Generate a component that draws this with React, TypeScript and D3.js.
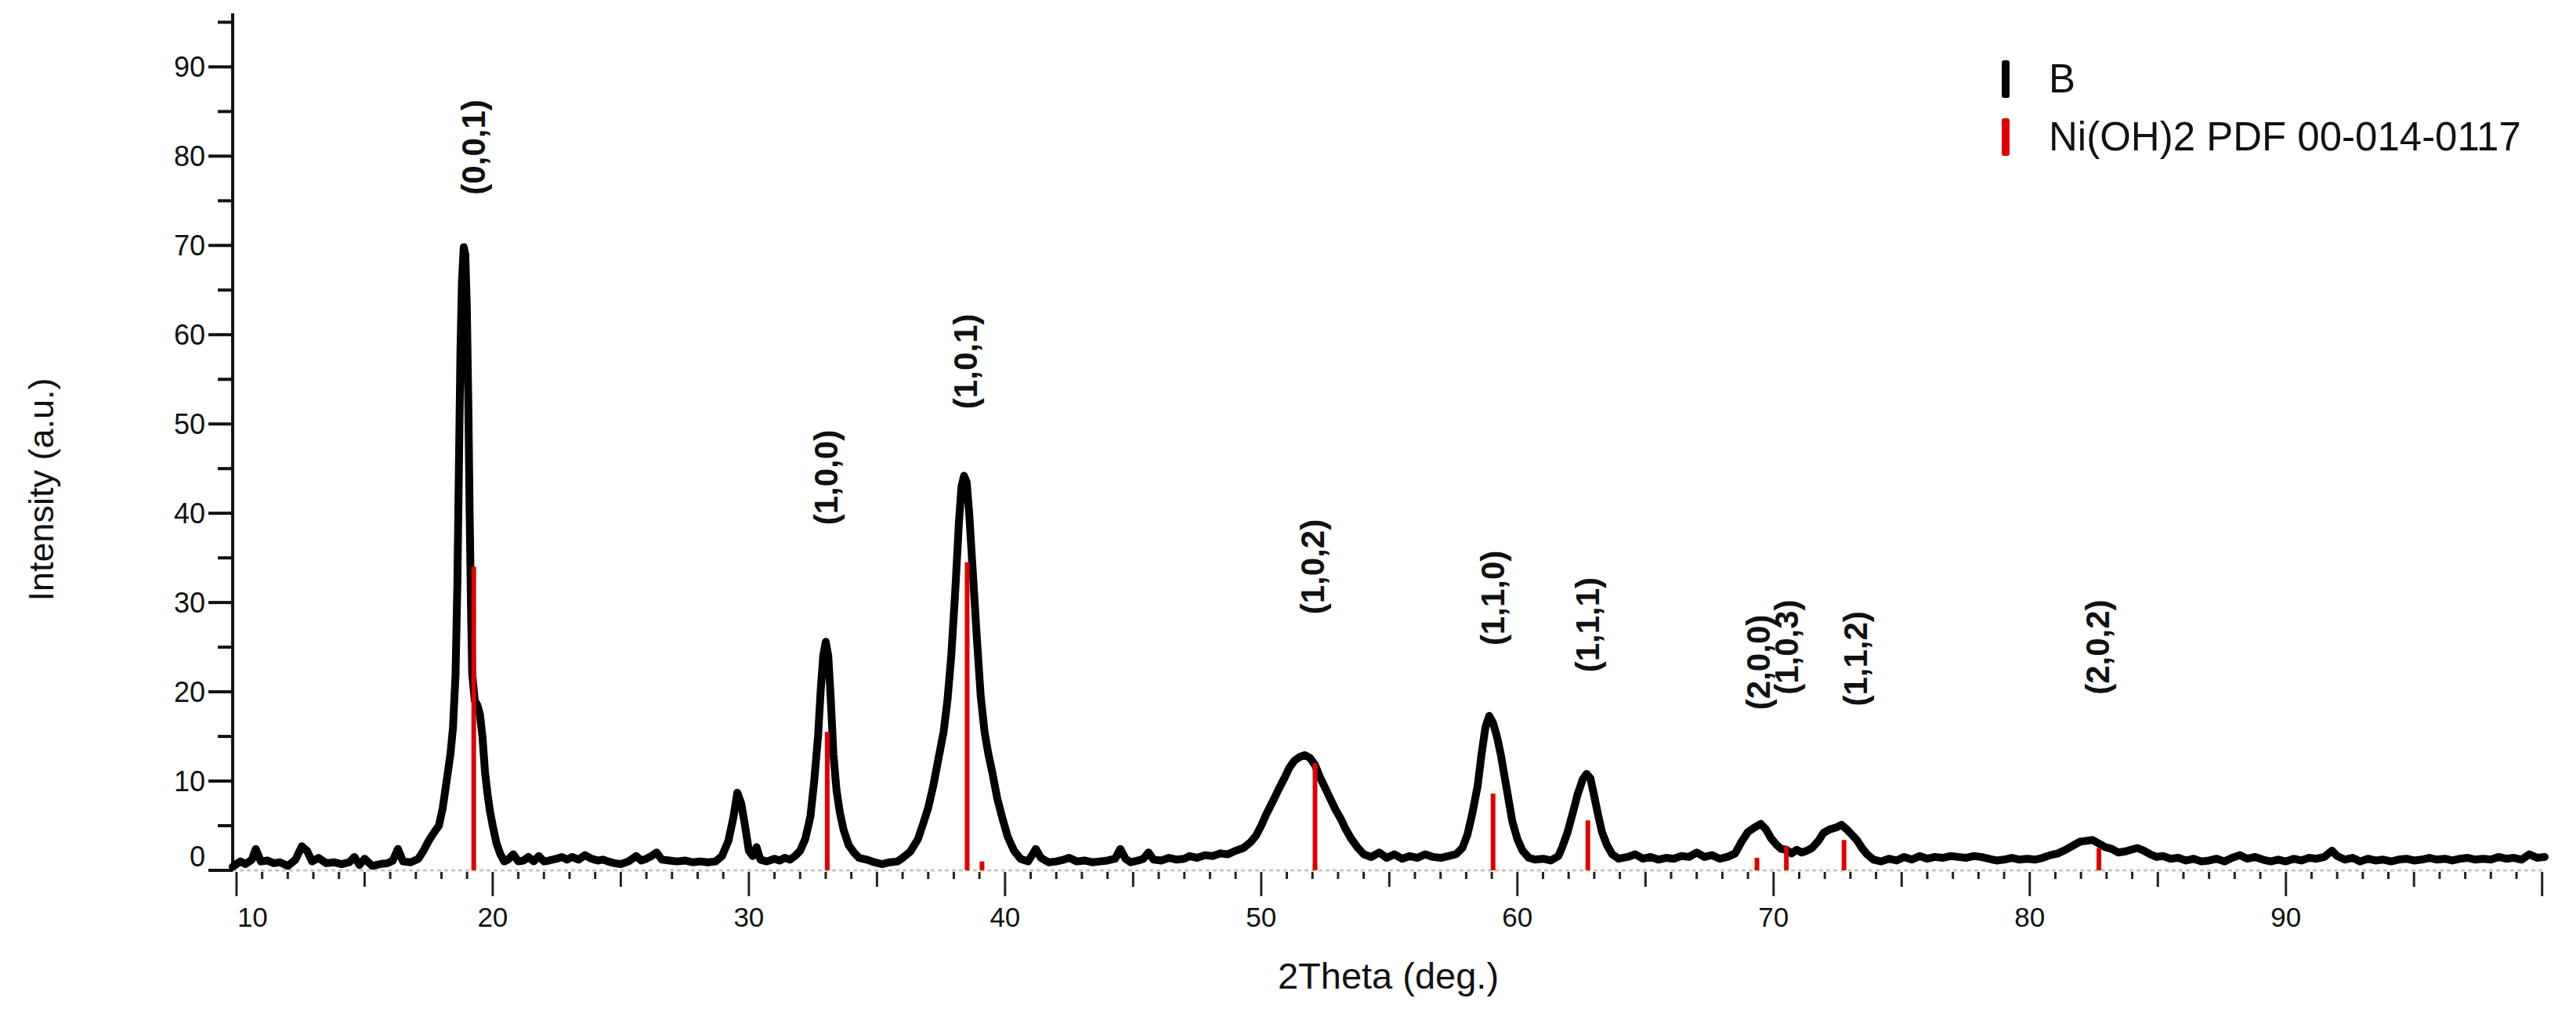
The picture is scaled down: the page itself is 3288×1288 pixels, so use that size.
import React from "react";
import * as d3 from "d3";

// measured pattern "B" : [2Theta (deg), intensity (a.u.)]
const scanLow: [number, number][] = [
  [9.85, 0.4], [10.15, 1.0], [10.35, 0.7], [10.6, 1.2], [10.75, 2.4], [10.95, 1.0], [11.2, 1.1],
  [11.45, 0.8], [11.7, 0.9], [12.0, 0.5], [12.3, 1.2], [12.55, 2.7], [12.75, 2.2], [12.95, 1.0],
  [13.2, 1.4], [13.5, 0.8], [13.8, 0.9], [14.1, 0.7], [14.4, 0.9], [14.6, 1.5], [14.8, 0.6],
  [15.0, 1.3], [15.3, 0.5], [15.6, 0.7], [15.9, 0.8], [16.1, 1.1], [16.3, 2.4], [16.5, 1.0],
  [16.8, 0.9], [17.1, 1.3], [17.3, 2.2], [17.5, 3.3], [17.7, 4.2], [17.9, 5.0], [18.05, 7.0],
  [18.2, 10.0], [18.35, 13], [18.45, 16], [18.55, 22], [18.62, 32], [18.68, 45], [18.74, 58],
  [18.8, 66], [18.87, 69.8], [18.93, 69], [18.99, 63], [19.05, 52], [19.1, 40], [19.15, 30],
  [19.2, 22], [19.3, 19], [19.4, 18.5], [19.5, 17.5], [19.6, 15], [19.7, 11], [19.8, 8.5],
  [19.9, 6.5], [20.0, 5], [20.15, 3], [20.3, 1.8], [20.45, 1.0], [20.6, 1.2], [20.8, 1.8],
  [21.0, 1.0], [21.2, 1.1], [21.4, 1.5], [21.6, 1.0], [21.8, 1.6], [22.0, 1.0], [22.2, 1.1],
  [22.5, 1.3], [22.7, 1.5], [22.9, 1.2], [23.1, 1.5], [23.35, 1.2], [23.6, 1.7], [23.85, 1.3],
  [24.1, 1.1], [24.3, 1.2], [24.5, 1.0], [24.75, 0.8], [25.0, 0.7], [25.3, 1.0], [25.6, 1.6],
  [25.8, 1.1], [26.0, 1.3], [26.2, 1.6], [26.4, 2.0], [26.6, 1.2], [26.9, 1.1], [27.2, 1.0],
  [27.5, 1.1], [27.8, 0.9], [28.1, 1.0], [28.4, 0.9], [28.7, 1.0], [28.95, 1.6], [29.2, 3.3],
  [29.4, 6], [29.55, 8.7], [29.7, 7.5], [29.85, 5], [30.0, 2.2], [30.15, 1.6], [30.3, 2.6],
  [30.45, 1.2], [30.7, 1.0], [31.0, 1.3], [31.2, 1.1], [31.4, 1.4], [31.6, 1.2], [31.8, 1.6],
];

const scanMid: [number, number][] = [
  [32.0, 2.2], [32.2, 3.5], [32.4, 6], [32.55, 10], [32.7, 15], [32.8, 20], [32.9, 24],
  [33.0, 25.6], [33.1, 24], [33.2, 19], [33.3, 13], [33.42, 9], [33.55, 6.5], [33.7, 4.5],
  [33.9, 2.8], [34.1, 2.0], [34.3, 1.4], [34.6, 1.2], [34.9, 0.9], [35.2, 0.7], [35.5, 0.9],
  [35.8, 1.0], [36.0, 1.4], [36.3, 2.1], [36.6, 3.5], [36.8, 5.2], [37.0, 7], [37.2, 9.5],
  [37.4, 12.5], [37.6, 15.5], [37.75, 19], [37.9, 24], [38.05, 31], [38.2, 39], [38.3, 43],
  [38.4, 44.2], [38.5, 43.5], [38.6, 40], [38.75, 33], [38.9, 26], [39.05, 19.5], [39.2, 15.5],
  [39.35, 13], [39.5, 11], [39.7, 8], [39.9, 5.8], [40.1, 3.8], [40.35, 2.2], [40.6, 1.3],
  [40.9, 1.0], [41.2, 2.4], [41.4, 1.4], [41.7, 0.9], [42.0, 1.0], [42.3, 1.2], [42.5, 1.4],
  [42.8, 1.0], [43.1, 1.1], [43.4, 0.9], [43.7, 1.0], [44.0, 1.1], [44.3, 1.3], [44.5, 2.4],
  [44.7, 1.3], [44.9, 0.9], [45.2, 1.1], [45.4, 1.3], [45.6, 2.0], [45.8, 1.2], [46.1, 1.1],
  [46.4, 1.4], [46.7, 1.2], [47.0, 1.3], [47.2, 1.6], [47.5, 1.4], [47.8, 1.7], [48.1, 1.6],
  [48.4, 1.9], [48.7, 1.8], [49.0, 2.2], [49.3, 2.5], [49.6, 3.2], [49.8, 3.9], [50.0, 5],
  [50.2, 6.3], [50.5, 8], [50.7, 9.2], [50.9, 10.3], [51.1, 11.5], [51.3, 12.3], [51.5, 12.7],
  [51.7, 12.9], [51.9, 12.6], [52.1, 11.8], [52.3, 10.4], [52.5, 9.2], [52.7, 8], [52.9, 6.8],
  [53.1, 5.8], [53.3, 4.6], [53.5, 3.6], [53.75, 2.6], [54.0, 1.8], [54.3, 1.5], [54.6, 2.0],
  [54.9, 1.4], [55.2, 1.8], [55.5, 1.3], [55.8, 1.6], [56.1, 1.4], [56.4, 1.8], [56.7, 1.5],
  [57.0, 1.4], [57.3, 1.6], [57.6, 1.8], [57.85, 2.5], [58.05, 4], [58.25, 6.5], [58.45, 9.5],
  [58.6, 13], [58.75, 16], [58.9, 17.3], [59.05, 16.5], [59.2, 15], [59.35, 13], [59.5, 10.5],
  [59.65, 8], [59.8, 5.5], [60.0, 3.5], [60.2, 2.2], [60.45, 1.4], [60.7, 1.2],
];

const scanHigh: [number, number][] = [
  [61.0, 1.3], [61.3, 1.1], [61.6, 1.6], [61.75, 2.6], [61.95, 4.2], [62.15, 6.3], [62.35, 8.5],
  [62.55, 10.2], [62.7, 10.8], [62.85, 10.3], [63.0, 8.3], [63.15, 6.2], [63.3, 4.3], [63.5, 2.8],
  [63.7, 1.8], [63.95, 1.3], [64.3, 1.5], [64.6, 1.8], [64.9, 1.3], [65.2, 1.5], [65.5, 1.2],
  [65.8, 1.4], [66.1, 1.3], [66.4, 1.6], [66.7, 1.5], [67.0, 2.0], [67.3, 1.5], [67.6, 1.7],
  [67.9, 1.3], [68.2, 1.5], [68.5, 1.9], [68.75, 3.2], [69.0, 4.3], [69.25, 4.8], [69.5, 5.2],
  [69.7, 4.6], [69.9, 3.6], [70.1, 2.9], [70.3, 2.4], [70.5, 2.3], [70.7, 1.9], [70.9, 2.3],
  [71.1, 2.0], [71.3, 2.2], [71.5, 2.5], [71.75, 3.3], [71.95, 4.2], [72.2, 4.6], [72.45, 4.8],
  [72.65, 5.1], [72.85, 4.6], [73.05, 4.0], [73.25, 3.4], [73.45, 2.5], [73.65, 1.8], [73.9, 1.2],
  [74.2, 1.0], [74.5, 1.3], [74.8, 1.1], [75.1, 1.5], [75.4, 1.2], [75.7, 1.6], [76.0, 1.3],
  [76.3, 1.5], [76.6, 1.4], [76.9, 1.6], [77.2, 1.5], [77.5, 1.4], [77.8, 1.6], [78.1, 1.5],
  [78.4, 1.3], [78.7, 1.1], [79.0, 1.2], [79.3, 1.4], [79.6, 1.2], [79.9, 1.3], [80.2, 1.2],
  [80.5, 1.4], [80.8, 1.7], [81.1, 1.9], [81.4, 2.3], [81.7, 2.8], [81.95, 3.2], [82.2, 3.3],
  [82.45, 3.4], [82.7, 3.0], [82.95, 2.6], [83.2, 2.4], [83.45, 2.0], [83.7, 2.1], [83.95, 2.3],
  [84.2, 2.5], [84.45, 2.2], [84.7, 1.8], [84.95, 1.5], [85.2, 1.6], [85.5, 1.3], [85.8, 1.4],
  [86.1, 1.1], [86.4, 1.3], [86.7, 1.0], [87.0, 1.1], [87.3, 1.3], [87.6, 1.0], [87.9, 1.4],
  [88.2, 1.7], [88.5, 1.3], [88.8, 1.5], [89.1, 1.2], [89.4, 1.0], [89.7, 1.2], [90.0, 1.0],
  [90.3, 1.3], [90.6, 1.1], [90.9, 1.4], [91.2, 1.3], [91.5, 1.5], [91.8, 2.2], [92.0, 1.6],
  [92.3, 1.2], [92.6, 1.4], [92.9, 1.0], [93.2, 1.3], [93.5, 1.1], [93.8, 1.2], [94.1, 1.0],
  [94.4, 1.2], [94.7, 1.3], [95.0, 1.1], [95.3, 1.2], [95.6, 1.4], [95.9, 1.2], [96.2, 1.3],
  [96.5, 1.1], [96.8, 1.3], [97.1, 1.4], [97.4, 1.2], [97.7, 1.3], [98.0, 1.2], [98.3, 1.5],
  [98.6, 1.3], [98.9, 1.4], [99.2, 1.2], [99.5, 1.8], [99.8, 1.4], [100.1, 1.5],
];

// Ni(OH)2 PDF 00-014-0117 reference lines
const refAngle = [19.26, 33.06, 38.52, 39.1, 52.1, 59.05, 62.75, 69.35, 70.5, 72.75, 82.7];
const refHeight = [34, 15.5, 34.5, 1.0, 12, 8.6, 5.6, 1.4, 2.7, 3.4, 2.5];

// hkl annotations (angle, level of label centre)
const hklText = ["(0,0,1)", "(1,0,0)", "(1,0,1)", "(1,0,2)", "(1,1,0)", "(1,1,1)", "(2,0,0)", "(1,0,3)", "(1,1,2)", "(2,0,2)"];
const hklAngle = [19.24, 33.03, 38.47, 52.0, 59.05, 62.75, 69.4, 70.5, 73.2, 82.65];
const hklLevel = [81, 44, 57, 34, 30.5, 27.5, 23.3, 25, 23.7, 25];

const xTickLabels = [10, 20, 30, 40, 50, 60, 70, 80, 90];
const yTickLabels = [0, 10, 20, 30, 40, 50, 60, 70, 80, 90];

const legendNames = ["B", "Ni(OH)2 PDF 00-014-0117"];
const legendColors = ["#000", "#e00000"];

const FONT = "'Liberation Sans', Arial, Helvetica, sans-serif";

export default function App() {
  const width = 3288,
    height = 1288;

  const x = d3.scaleLinear().domain([9.85, 100.1]).range([297, 3248]);
  const y = d3.scaleLinear().domain([0, 96]).range([1111, 17]);

  const scan = [...scanLow, ...scanMid, ...scanHigh];
  const line = d3
    .line<[number, number]>()
    .x((d) => x(d[0]))
    .y((d) => y(d[1]));

  // tick marks: 1 deg minor, 5 deg medium, 10 deg major
  const xMinor = d3.range(10, 101, 1);
  const yMinor = d3.range(0, 96, 5);
  const y0 = y(0);

  return (
    <svg
      width={width}
      height={height}
      style={{ position: "absolute", left: 0, top: 0, background: "#fff" }}
      fontFamily={FONT}
    >
      <rect width={width} height={height} fill="#fff" />

      {/* x axis baseline (faint dashed) */}
      <line x1={x(9.85)} x2={x(100.1)} y1={y0} y2={y0} stroke="#c8c8c8" strokeWidth={3} strokeDasharray="5,4" />

      {/* x ticks */}
      {xMinor.map((t) => {
        const len = t % 10 === 0 ? 33 : t % 5 === 0 ? 21 : 11;
        return (
          <line key={"xt" + t} x1={x(t)} x2={x(t)} y1={y0 + 2} y2={y0 + len} stroke="#222" strokeWidth={3} />
        );
      })}
      {xTickLabels.map((t, i) => (
        <text
          key={"xl" + t}
          x={i === 0 ? x(t) + 1 : x(t)}
          y={1183}
          fontSize={35}
          textAnchor={i === 0 ? "start" : "middle"}
          fill="#111"
        >
          {t}
        </text>
      ))}

      {/* y axis */}
      <line x1={297} x2={297} y1={y(96)} y2={y0} stroke="#111" strokeWidth={4} />
      {yMinor.map((t) => {
        const len = t % 10 === 0 ? 31 : 19;
        return <line key={"yt" + t} x1={297 - len} x2={297} y1={y(t)} y2={y(t)} stroke="#111" strokeWidth={4} />;
      })}
      {yTickLabels.map((t) => (
        <text
          key={"yl" + t}
          x={262}
          y={t === 0 ? y(t) - 18 : y(t)}
          fontSize={36}
          textAnchor="end"
          dominantBaseline="central"
          fill="#111"
        >
          {t}
        </text>
      ))}

      {/* axis titles */}
      <text x={1772} y={1262} fontSize={47} textAnchor="middle" fill="#111">
        2Theta (deg.)
      </text>
      <text
        transform={`translate(52,625) rotate(-90)`}
        fontSize={45}
        textAnchor="middle"
        dominantBaseline="central"
        fill="#111"
      >
        Intensity (a.u.)
      </text>

      {/* measured pattern */}
      <path d={line(scan) || ""} fill="none" stroke="#000" strokeWidth={10} strokeLinejoin="round" strokeLinecap="round" />

      {/* reference sticks */}
      {refAngle.map((a, i) => (
        <line key={"ref" + i} x1={x(a)} x2={x(a)} y1={y0} y2={y(refHeight[i])} stroke="#e00000" strokeWidth={6} />
      ))}

      {/* hkl labels */}
      {hklText.map((s, i) => (
        <text
          key={"hkl" + i}
          transform={`translate(${x(hklAngle[i])},${y(hklLevel[i])}) rotate(-90)`}
          fontSize={42}
          fontWeight="bold"
          textAnchor="middle"
          dominantBaseline="central"
          fill="#111"
        >
          {s}
        </text>
      ))}

      {/* legend */}
      {legendNames.map((n, i) => (
        <g key={"lg" + i} transform={`translate(2560,${100 + i * 74})`}>
          <rect x={-5} y={-23} width={10} height={48} rx={3} fill={legendColors[i]} />
          <text x={55} y={0} fontSize={51} dominantBaseline="central" fill="#111">
            {n}
          </text>
        </g>
      ))}
    </svg>
  );
}
